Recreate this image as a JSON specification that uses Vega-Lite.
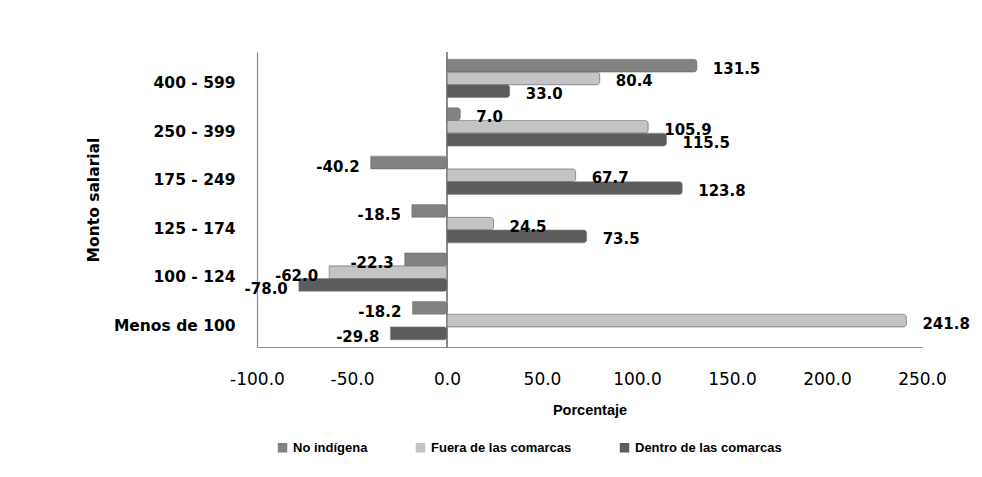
{
  "$schema": "https://vega.github.io/schema/vega-lite/v6.json",
  "width": 665,
  "height": 295,
  "autosize": "none",
  "padding": {"left": 257, "top": 52, "right": 60, "bottom": 130},
  "background": "white",
  "config": {
    "locale": {"number": {"decimal": ".", "thousands": ",", "grouping": [3], "currency": ["$", ""], "minus": "-"}},
    "view": {"stroke": null},
    "axis": {"grid": false, "ticks": false, "domainColor": "#8c8c8c", "labelColor": "#000000", "titleColor": "#000000"}
  },
  "data": {
    "values": [
      {"monto": "400 - 599", "grupo": "No indígena", "valor": 131.5},
      {"monto": "400 - 599", "grupo": "Fuera de las comarcas", "valor": 80.4},
      {"monto": "400 - 599", "grupo": "Dentro de las comarcas", "valor": 33.0},
      {"monto": "250 - 399", "grupo": "No indígena", "valor": 7.0},
      {"monto": "250 - 399", "grupo": "Fuera de las comarcas", "valor": 105.9},
      {"monto": "250 - 399", "grupo": "Dentro de las comarcas", "valor": 115.5},
      {"monto": "175 - 249", "grupo": "No indígena", "valor": -40.2},
      {"monto": "175 - 249", "grupo": "Fuera de las comarcas", "valor": 67.7},
      {"monto": "175 - 249", "grupo": "Dentro de las comarcas", "valor": 123.8},
      {"monto": "125 - 174", "grupo": "No indígena", "valor": -18.5},
      {"monto": "125 - 174", "grupo": "Fuera de las comarcas", "valor": 24.5},
      {"monto": "125 - 174", "grupo": "Dentro de las comarcas", "valor": 73.5},
      {"monto": "100 - 124", "grupo": "No indígena", "valor": -22.3},
      {"monto": "100 - 124", "grupo": "Fuera de las comarcas", "valor": -62.0},
      {"monto": "100 - 124", "grupo": "Dentro de las comarcas", "valor": -78.0},
      {"monto": "Menos de 100", "grupo": "No indígena", "valor": -18.2},
      {"monto": "Menos de 100", "grupo": "Fuera de las comarcas", "valor": 241.8},
      {"monto": "Menos de 100", "grupo": "Dentro de las comarcas", "valor": -29.8}
    ]
  },
  "layer": [
    {
      "mark": {"type": "rule", "color": "#8c8c8c", "strokeWidth": 1.2},
      "encoding": {"x": {"datum": 0, "type": "quantitative", "scale": {"domain": [-100, 250], "nice": false}}}
    },
    {
      "mark": {"type": "bar", "cornerRadiusEnd": 3, "stroke": "#6f6f6f", "strokeWidth": 0.6},
      "encoding": {
        "y": {
          "field": "monto", "type": "nominal",
          "sort": ["400 - 599", "250 - 399", "175 - 249", "125 - 174", "100 - 124", "Menos de 100"],
          "scale": {"paddingInner": 0.21, "paddingOuter": 0.15},
          "title": "Monto salarial",
          "axis": {
            "labelFont": "DejaVu Sans", "labelFontSize": 15.5, "labelFontWeight": "bold",
            "labelPadding": 22, "labelOffset": 5,
            "titleFont": "DejaVu Sans", "titleFontSize": 15.5, "titleFontWeight": "bold",
            "titlePadding": 12, "domainWidth": 1.2
          }
        },
        "yOffset": {
          "field": "grupo", "type": "nominal",
          "sort": ["No indígena", "Fuera de las comarcas", "Dentro de las comarcas"],
          "scale": {"paddingInner": 0, "paddingOuter": 0}
        },
        "x": {
          "field": "valor", "type": "quantitative",
          "scale": {"domain": [-100, 250], "nice": false},
          "title": "Porcentaje",
          "axis": {
            "values": [-100, -50, 0, 50, 100, 150, 200, 250], "format": ".1f",
            "labelFont": "DejaVu Sans", "labelFontSize": 17, "labelPadding": 24,
            "labelFlush": false,
            "titleFont": "Liberation Sans", "titleFontSize": 14.5, "titleFontWeight": "bold",
            "titlePadding": 16, "domainWidth": 1.2
          }
        },
        "color": {
          "field": "grupo", "type": "nominal",
          "scale": {
            "domain": ["No indígena", "Fuera de las comarcas", "Dentro de las comarcas"],
            "range": ["#828282", "#c4c4c4", "#5c5c5c"]
          },
          "legend": {
            "title": null, "orient": "none", "direction": "horizontal",
            "legendX": 19, "legendY": 389,
            "symbolType": "square", "symbolSize": 90, "symbolStrokeWidth": 0,
            "labelFont": "Liberation Sans", "labelFontSize": 13, "labelFontWeight": "bold",
            "labelColor": "#000000", "columnPadding": 46, "labelOffset": 4
          }
        }
      }
    },
    {
      "transform": [{"filter": "datum.valor >= 0"}],
      "mark": {"type": "text", "align": "left", "baseline": "middle", "dx": 16, "dy": 3, "font": "DejaVu Sans", "fontSize": 15, "fontWeight": "bold", "color": "#000000"},
      "encoding": {
        "y": {"field": "monto", "type": "nominal", "sort": ["400 - 599", "250 - 399", "175 - 249", "125 - 174", "100 - 124", "Menos de 100"]},
        "yOffset": {"field": "grupo", "type": "nominal", "sort": ["No indígena", "Fuera de las comarcas", "Dentro de las comarcas"]},
        "x": {"field": "valor", "type": "quantitative"},
        "text": {"field": "valor", "type": "quantitative", "format": ".1f"}
      }
    },
    {
      "transform": [{"filter": "datum.valor < 0"}],
      "mark": {"type": "text", "align": "right", "baseline": "middle", "dx": -11, "dy": 4, "font": "DejaVu Sans", "fontSize": 15, "fontWeight": "bold", "color": "#000000"},
      "encoding": {
        "y": {"field": "monto", "type": "nominal", "sort": ["400 - 599", "250 - 399", "175 - 249", "125 - 174", "100 - 124", "Menos de 100"]},
        "yOffset": {"field": "grupo", "type": "nominal", "sort": ["No indígena", "Fuera de las comarcas", "Dentro de las comarcas"]},
        "x": {"field": "valor", "type": "quantitative"},
        "text": {"field": "valor", "type": "quantitative", "format": ".1f"}
      }
    }
  ]
}
